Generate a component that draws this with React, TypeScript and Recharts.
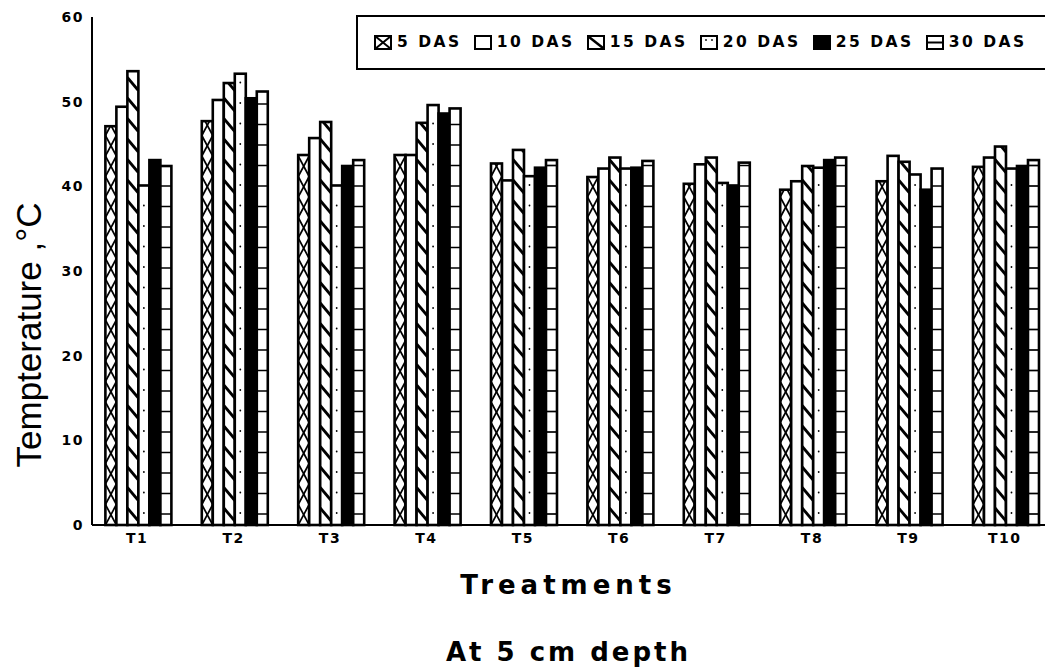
import { BarChart, Bar, XAxis, YAxis } from "recharts";

const treatments = ["T1", "T2", "T3", "T4", "T5", "T6", "T7", "T8", "T9", "T10"];

// soil temperature (°C) at 5 cm depth, days after sowing
const das5 = [47.1, 47.7, 43.7, 43.7, 42.7, 41.1, 40.3, 39.6, 40.6, 42.3];
const das10 = [49.4, 50.2, 45.7, 43.7, 40.7, 42.1, 42.6, 40.6, 43.6, 43.4];
const das15 = [53.6, 52.2, 47.6, 47.5, 44.3, 43.4, 43.4, 42.4, 42.9, 44.7];
const das20 = [40.1, 53.3, 40.1, 49.6, 41.2, 42.1, 40.4, 42.2, 41.4, 42.1];
const das25 = [43.1, 50.4, 42.4, 48.6, 42.2, 42.2, 40.1, 43.1, 39.6, 42.4];
const das30 = [42.4, 51.2, 43.1, 49.2, 43.1, 43.0, 42.8, 43.4, 42.1, 43.1];

const yTicks = [0, 10, 20, 30, 40, 50, 60];

type Kind = "cross" | "plain" | "diag" | "dots" | "solid" | "rows";

const series: { key: string; name: string; kind: Kind; values: number[] }[] = [
  { key: "das5", name: "5 DAS", kind: "cross", values: das5 },
  { key: "das10", name: "10 DAS", kind: "plain", values: das10 },
  { key: "das15", name: "15 DAS", kind: "diag", values: das15 },
  { key: "das20", name: "20 DAS", kind: "dots", values: das20 },
  { key: "das25", name: "25 DAS", kind: "solid", values: das25 },
  { key: "das30", name: "30 DAS", kind: "rows", values: das30 },
];

const data = treatments.map((name, i) => {
  const row: Record<string, string | number> = { name };
  series.forEach((s) => {
    row[s.key] = s.values[i];
  });
  return row;
});

const STEP = 20.5;
const tickFont = { fontFamily: "DejaVu Sans", fontWeight: 700, fontSize: 14, fill: "#000", letterSpacing: 1.5 };

// hatching drawn inside one bar, anchored at the baseline
function hatch(kind: Kind, x: number, y: number, w: number, h: number) {
  const out: JSX.Element[] = [];
  const bottom = y + h;
  for (let k = 0; bottom - k * STEP > y - STEP; k++) {
    const y0 = bottom - k * STEP;
    if (kind === "cross") {
      out.push(<line key={`a${k}`} x1={x} y1={y0} x2={x + w} y2={y0 - STEP} strokeWidth={1.7} />);
      out.push(<line key={`b${k}`} x1={x + w} y1={y0} x2={x} y2={y0 - STEP} strokeWidth={1.7} />);
    } else if (kind === "diag") {
      out.push(<line key={k} x1={x} y1={y0 - 17} x2={x + w} y2={y0 - 4} strokeWidth={2.8} />);
    } else if (kind === "dots") {
      out.push(<circle key={k} cx={x + w / 2} cy={y0 - 12} r={0.9} fill="#000" stroke="none" />);
    } else if (kind === "rows") {
      out.push(<line key={k} x1={x} y1={y0 - 11} x2={x + w} y2={y0 - 11} strokeWidth={1.7} />);
    }
  }
  return out;
}

function BarFace(props: any) {
  const { x, y, width, height, kind, clipId } = props;
  if (!height || height <= 0) return null;
  return (
    <g>
      <clipPath id={clipId}>
        <rect x={x} y={y} width={width} height={height} />
      </clipPath>
      <rect x={x} y={y} width={width} height={height} fill={kind === "solid" ? "#000" : "#fff"} />
      <g clipPath={`url(#${clipId})`} stroke="#000">
        {hatch(kind, x, y, width, height)}
      </g>
      <rect x={x} y={y} width={width} height={height} fill="none" stroke="#000" strokeWidth={2.6} />
    </g>
  );
}

function LegendIcon({ kind }: { kind: Kind }) {
  return (
    <svg width={18} height={15} style={{ display: "block" }}>
      <rect x={1} y={1} width={16} height={13} fill={kind === "solid" ? "#000" : "#fff"} stroke="#000" strokeWidth={2} />
      {kind === "cross" && (
        <g stroke="#000" strokeWidth={2}>
          <line x1={1} y1={1} x2={17} y2={14} />
          <line x1={17} y1={1} x2={1} y2={14} />
        </g>
      )}
      {kind === "diag" && <line x1={2} y1={2} x2={16} y2={13} stroke="#000" strokeWidth={2.5} />}
      {kind === "dots" && (
        <g fill="#000">
          <circle cx={6} cy={5} r={0.9} />
          <circle cx={12} cy={5} r={0.9} />
        </g>
      )}
      {kind === "rows" && <line x1={1} y1={7.5} x2={17} y2={7.5} stroke="#000" strokeWidth={2} />}
    </svg>
  );
}

export default function App() {
  return (
    <div
      style={{
        position: "absolute",
        left: 0,
        top: 0,
        width: 1045,
        height: 668,
        overflow: "hidden",
        background: "#fff",
      }}
    >
      <BarChart
        width={1054}
        height={668}
        data={data}
        margin={{ top: 17, right: 1, bottom: 113, left: 32 }}
        barCategoryGap="17%"
        barGap={0}
      >
        <XAxis
          dataKey="name"
          height={30}
          padding={{ left: -3, right: 0 }}
          tickLine={false}
          axisLine={{ stroke: "#000", strokeWidth: 2 }}
          tick={tickFont}
          interval={0}
        />
        <YAxis
          width={60}
          domain={[0, 60]}
          ticks={yTicks}
          tickLine={false}
          axisLine={{ stroke: "#000", strokeWidth: 2 }}
          tick={tickFont}
        />
        {series.map((s) => (
          <Bar
            key={s.key}
            dataKey={s.key}
            name={s.name}
            isAnimationActive={false}
            shape={(p: any) => <BarFace {...p} kind={s.kind} clipId={`clip-${s.key}-${p.index}`} />}
          />
        ))}
      </BarChart>

      {/* legend box */}
      <div
        style={{
          position: "absolute",
          left: 356,
          top: 15,
          width: 720,
          height: 55,
          boxSizing: "border-box",
          border: "2px solid #000",
          borderRight: "none",
          display: "flex",
          alignItems: "center",
          paddingLeft: 16,
        }}
      >
        {series.map((s) => (
          <div key={s.key} style={{ display: "flex", alignItems: "center", marginRight: 12 }}>
            <LegendIcon kind={s.kind} />
            <span
              style={{
                marginLeft: 5,
                fontFamily: "DejaVu Sans",
                fontWeight: 700,
                fontSize: 15.5,
                letterSpacing: 2.5,
                lineHeight: 1,
              }}
            >
              {s.name}
            </span>
          </div>
        ))}
      </div>

      <div
        style={{
          position: "absolute",
          left: 28,
          top: 335,
          transform: "translate(-50%, -50%) rotate(-90deg)",
          fontFamily: "Liberation Sans",
          fontSize: 35,
          whiteSpace: "nowrap",
          lineHeight: 1,
        }}
      >
        Tempterature ,°C
      </div>

      <div
        style={{
          position: "absolute",
          left: 0,
          width: 1137,
          top: 572,
          textAlign: "center",
          fontFamily: "DejaVu Sans",
          fontWeight: 700,
          fontSize: 26,
          letterSpacing: 5,
          lineHeight: 1,
        }}
      >
        Treatments
      </div>
      <div
        style={{
          position: "absolute",
          left: 0,
          width: 1137,
          top: 639,
          textAlign: "center",
          fontFamily: "DejaVu Sans",
          fontWeight: 700,
          fontSize: 26,
          letterSpacing: 3,
          lineHeight: 1,
        }}
      >
        At 5 cm depth
      </div>
    </div>
  );
}
